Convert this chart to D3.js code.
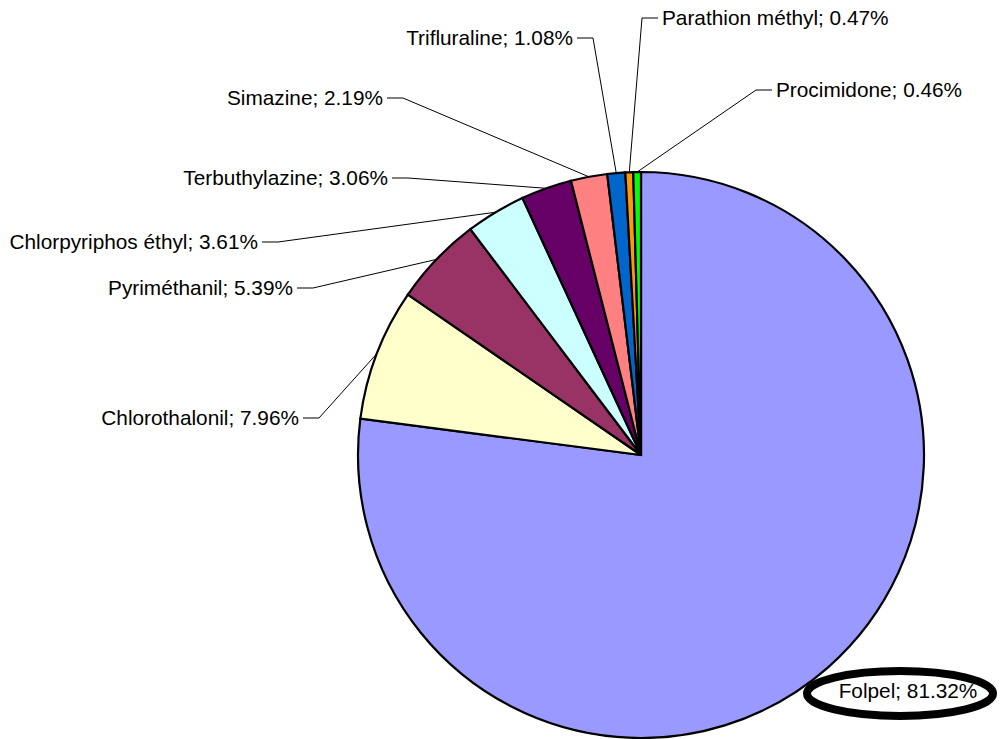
<!DOCTYPE html>
<html>
<head>
<meta charset="utf-8">
<script src="https://cdn.jsdelivr.net/npm/d3@7"></script>
<style>
  body { margin: 0; background: #fff; }
  svg { display: block; }
  text { font-family: "Liberation Sans", Arial, sans-serif; font-size: 20.8px; fill: #000; }
</style>
</head>
<body>
<script>
// data (the pie is drawn from these, d3.pie normalises them)
var categories = ["Folpel", "Chlorothalonil", "Pyriméthanil", "Chlorpyriphos éthyl",
  "Terbuthylazine", "Simazine", "Trifluraline", "Parathion méthyl", "Procimidone"];
var values = [81.32, 7.96, 5.39, 3.61, 3.06, 2.19, 1.08, 0.47, 0.46];
var colors = ["#9999FF", "#FFFFCC", "#993366", "#CCFFFF", "#660066",
  "#FF8080", "#0066CC", "#FF9900", "#00FF00"];

// where each label sits (text edge nearest the pie, vertical middle, side)
var labelX = [908, 299, 293, 258, 388, 383, 573, 662, 776];
var labelY = [691, 418, 288, 242, 178, 98, 38, 18, 90];
var labelSide = ["mid", "left", "left", "left", "left", "left", "left", "right", "right"];

var W = 1001, H = 739;
var cx = 641, cy = 455, radius = 283;

var svg = d3.select("body")
  .append("svg")
    .attr("width", W)
    .attr("height", H);

var data = categories.map(function(c, i) {
  return {name: c, value: values[i], color: colors[i], lx: labelX[i], ly: labelY[i], side: labelSide[i]};
});

var pie = d3.pie()
  .sort(null)
  .value(function(d) { return d.value; });

var arc = d3.arc()
  .innerRadius(0)
  .outerRadius(radius);

var arcs = pie(data);

var g = svg.append("g")
  .attr("transform", "translate(" + cx + "," + cy + ")");

// slices
g.selectAll("path.slice")
  .data(arcs)
  .enter()
  .append("path")
    .attr("class", "slice")
    .attr("d", arc)
    .attr("fill", function(d) { return d.data.color; })
    .attr("stroke", "#000")
    .attr("stroke-width", 2.2)
    .attr("stroke-linejoin", "miter");

var fmt = d3.format(".2f");

// leader lines: from the rim at mid angle to an elbow, then flat to the text
var gap = 4, seg = 16;
arcs.forEach(function(d) {
  if (d.data.side == "mid") return;
  var a = (d.startAngle + d.endAngle) / 2;
  var px = cx + radius * Math.sin(a),
      py = cy - radius * Math.cos(a);
  var dir = d.data.side == "left" ? 1 : -1;
  var ex = d.data.lx + dir * (gap + seg),
      tx = d.data.lx + dir * gap;
  svg.append("polyline")
    .attr("points", [[px, py], [ex, d.data.ly], [tx, d.data.ly]].join(" "))
    .attr("fill", "none")
    .attr("stroke", "#000")
    .attr("stroke-width", 1);
});

// labels
svg.selectAll("text.lbl")
  .data(arcs)
  .enter()
  .append("text")
    .attr("class", "lbl")
    .attr("x", function(d) { return d.data.lx; })
    .attr("y", function(d) { return d.data.ly; })
    .attr("dy", "0.35em")
    .attr("text-anchor", function(d) {
      return d.data.side == "left" ? "end" : (d.data.side == "right" ? "start" : "middle");
    })
    .text(function(d) { return d.data.name + "; " + fmt(d.data.value) + "%"; });

// the hand drawn ring round the Folpel label
svg.append("ellipse")
  .attr("cx", 900)
  .attr("cy", 693.5)
  .attr("rx", 93)
  .attr("ry", 22.5)
  .attr("fill", "none")
  .attr("stroke", "#000")
  .attr("stroke-width", 8);
</script>
</body>
</html>
